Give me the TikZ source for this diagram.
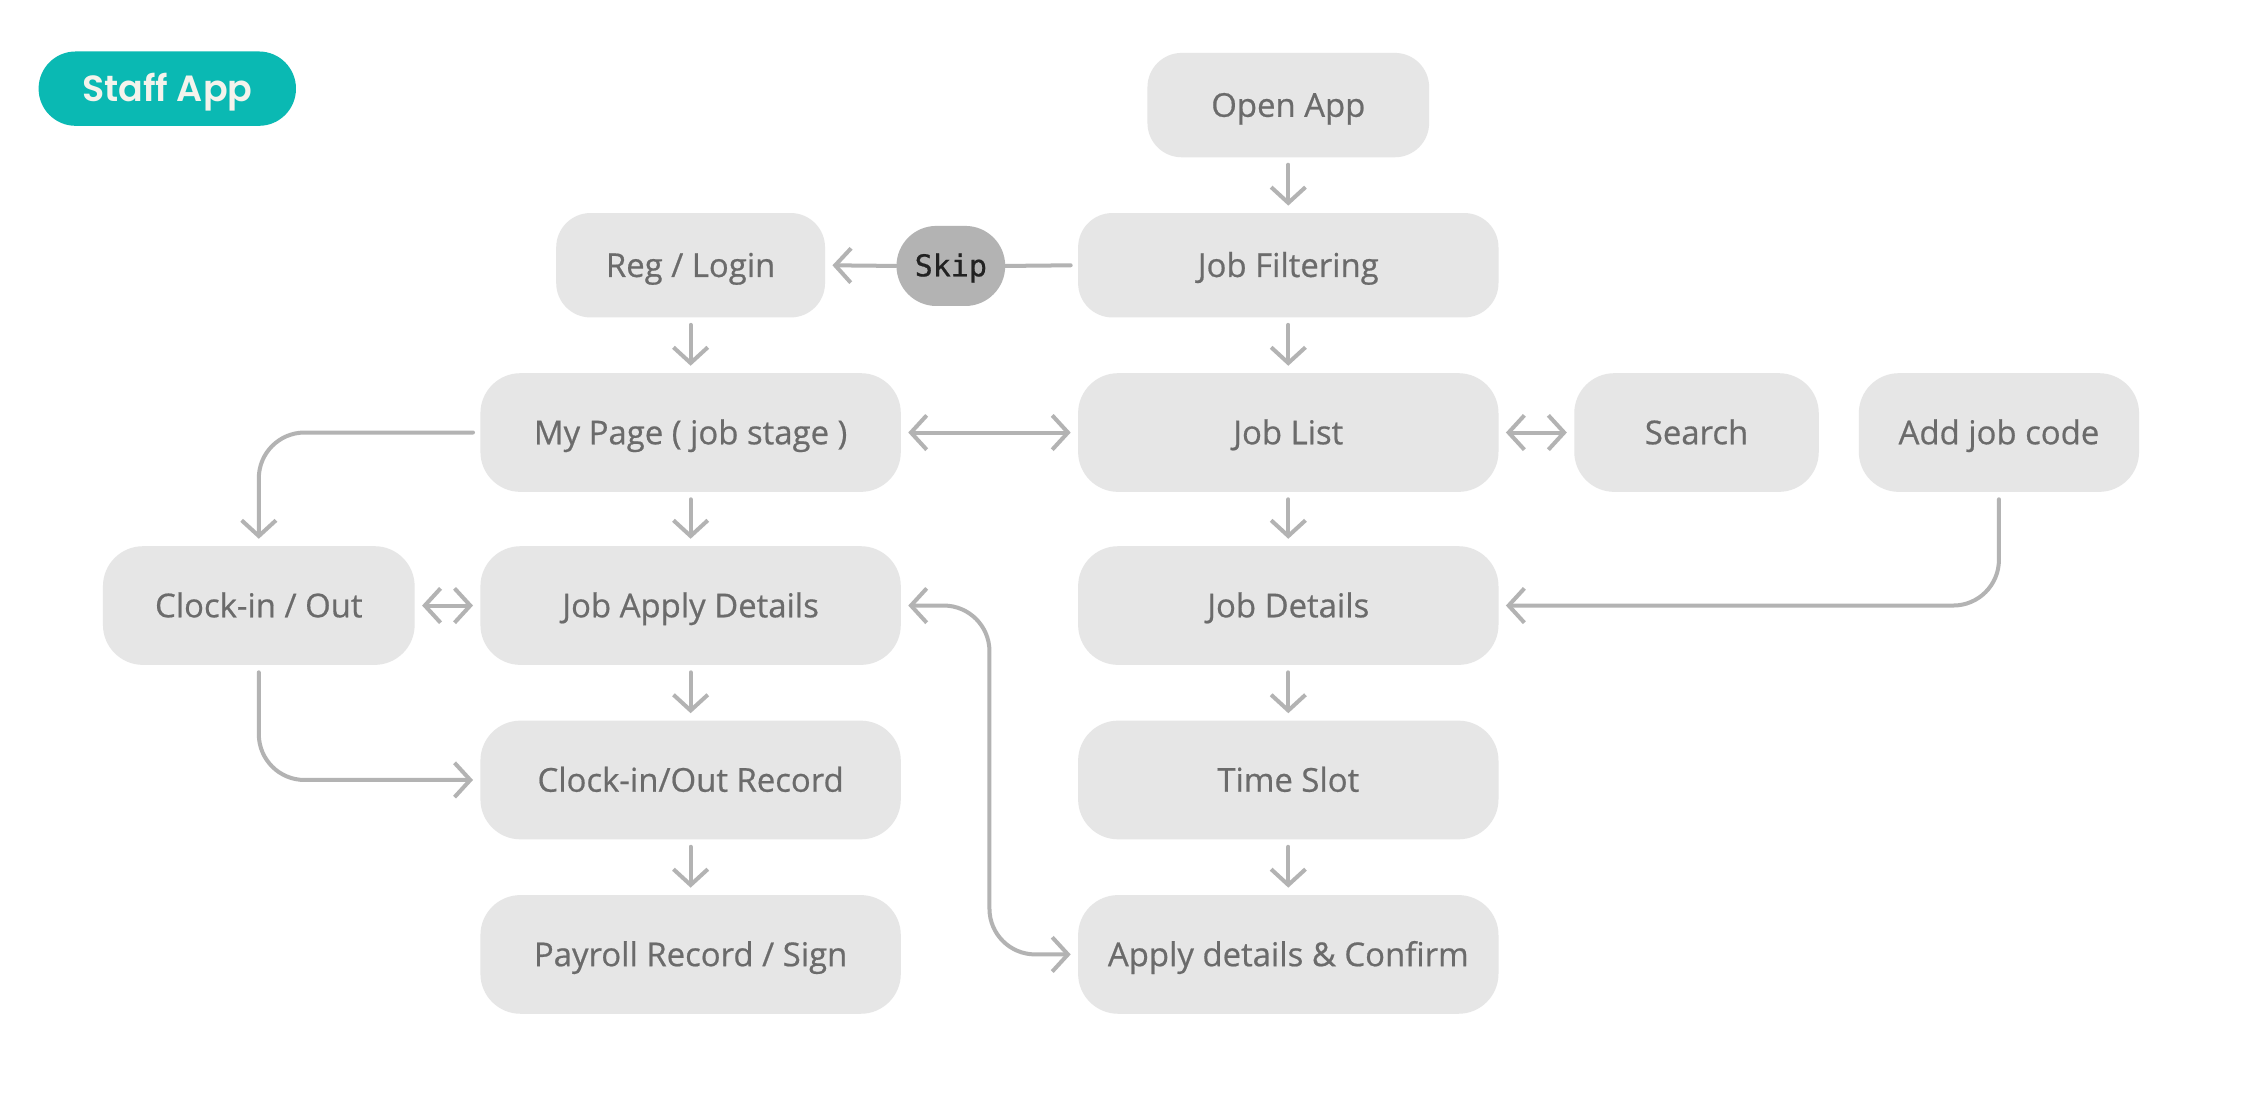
\documentclass[tikz,border=0pt]{standalone}
\usepackage{fontspec}
\setmainfont{Open Sans}[FakeBold=0.6]
\newfontfamily\staffont{Poppins SemiBold}
\newfontfamily\skipfont{DejaVu Sans Mono}[FakeBold=0.6]
\usetikzlibrary{arrows.meta}
\definecolor{boxgray}{HTML}{E6E6E6}
\definecolor{txtgray}{HTML}{6B6B6B}
\definecolor{linegray}{HTML}{B3B3B3}
\definecolor{staffteal}{HTML}{0AB9B3}
\definecolor{offwhite}{HTML}{F4F3EC}
\definecolor{skiptext}{HTML}{222222}
\begin{document}
\begin{tikzpicture}[x=1pt,y=-1pt,
  box/.style={fill=boxgray, text=txtgray, rounded corners=28pt, minimum height=83pt,
    font=\fontsize{23}{27}\selectfont, inner sep=0pt, text height=16.4pt, text depth=0pt},
  sbox/.style={box, minimum height=73pt, rounded corners=24pt},
  conn/.style={draw=linegray, line width=2.8pt, line cap=round, line join=round,
    -{Straight Barb[length=11pt,width=24pt]}, shorten >=5pt, shorten <=5pt},
  dconn/.style={conn, {Straight Barb[length=11pt,width=24pt]}-{Straight Barb[length=11pt,width=24pt]}},
  plain/.style={draw=linegray, line width=2.8pt, line cap=round, line join=round}
  ]
\useasboundingbox[fill=white] (0,0) rectangle (1568,770);

% title
\node[fill=staffteal, minimum width=180pt, minimum height=52pt, rounded corners=25.9pt,
  text=offwhite, inner sep=0pt, text height=18pt, text depth=0pt,
  font=\staffont\fontsize{25.5}{30}\selectfont]
  (staff) at (117,62) {Staff App};

% nodes
\node[sbox, minimum width=197pt] (open) at (901,73.5) {Open App};
\node[sbox, minimum width=294pt] (filter) at (901,185.5) {Job Filtering};
\node[sbox, minimum width=188pt] (reg) at (483,185.5) {Reg / Login};
\node[fill=linegray, rounded corners=27.9pt, minimum width=76pt, minimum height=56pt,
  inner sep=0pt, text=skiptext, text height=14.5pt, text depth=0pt,
  font=\skipfont\fontsize{21}{25}\selectfont]
  (skip) at (665,186) {Skip};

\node[box, minimum width=294pt] (mypage) at (483,302.5) {My Page ( job stage )};
\node[box, minimum width=294pt] (joblist) at (901,302.5) {Job List};
\node[box, minimum width=171pt] (search) at (1186.5,302.5) {Search};
\node[box, minimum width=196pt] (addcode) at (1398,302.5) {Add job code};

\node[box, minimum width=218pt] (clock) at (181,423.5) {Clock-in / Out};
\node[box, minimum width=294pt] (applydet) at (483,423.5) {Job Apply Details};
\node[box, minimum width=294pt] (jobdet) at (901,423.5) {Job Details};

\node[box, minimum width=294pt] (record) at (483,545.5) {Clock-in/Out Record};
\node[box, minimum width=294pt] (timeslot) at (901,545.5) {Time Slot};

\node[box, minimum width=294pt] (payroll) at (483,667.5) {Payroll Record / Sign};
\node[box, minimum width=294pt] (confirm) at (901,667.5) {Apply details \& Confirm};

% connectors
\draw[conn] (open.south) -- (filter.north);
\draw[plain, shorten <=5pt] (filter.west) -- (skip.east);
\draw[conn, shorten <=0pt] (skip.west) -- (reg.east);
\draw[conn] (reg.south) -- (mypage.north);
\draw[conn] (filter.south) -- (joblist.north);
\draw[dconn] (mypage.east) -- (joblist.west);
\draw[dconn] (joblist.east) -- (search.west);
\draw[conn, rounded corners=32pt] (mypage.west) -| (clock.north);
\draw[conn] (mypage.south) -- (applydet.north);
\draw[conn] (joblist.south) -- (jobdet.north);
\draw[dconn] (clock.east) -- (applydet.west);
\draw[conn, rounded corners=32pt] (addcode.south) |- (jobdet.east);
\coordinate (loopx) at (692,0);
\draw[dconn, rounded corners=32pt] (applydet.east) -- (applydet.east -| loopx)
  -- (loopx |- confirm.west) -- (confirm.west);
\draw[conn, rounded corners=32pt] (clock.south) |- (record.west);
\draw[conn] (applydet.south) -- (record.north);
\draw[conn] (jobdet.south) -- (timeslot.north);
\draw[conn] (record.south) -- (payroll.north);
\draw[conn] (timeslot.south) -- (confirm.north);
\end{tikzpicture}
\end{document}
